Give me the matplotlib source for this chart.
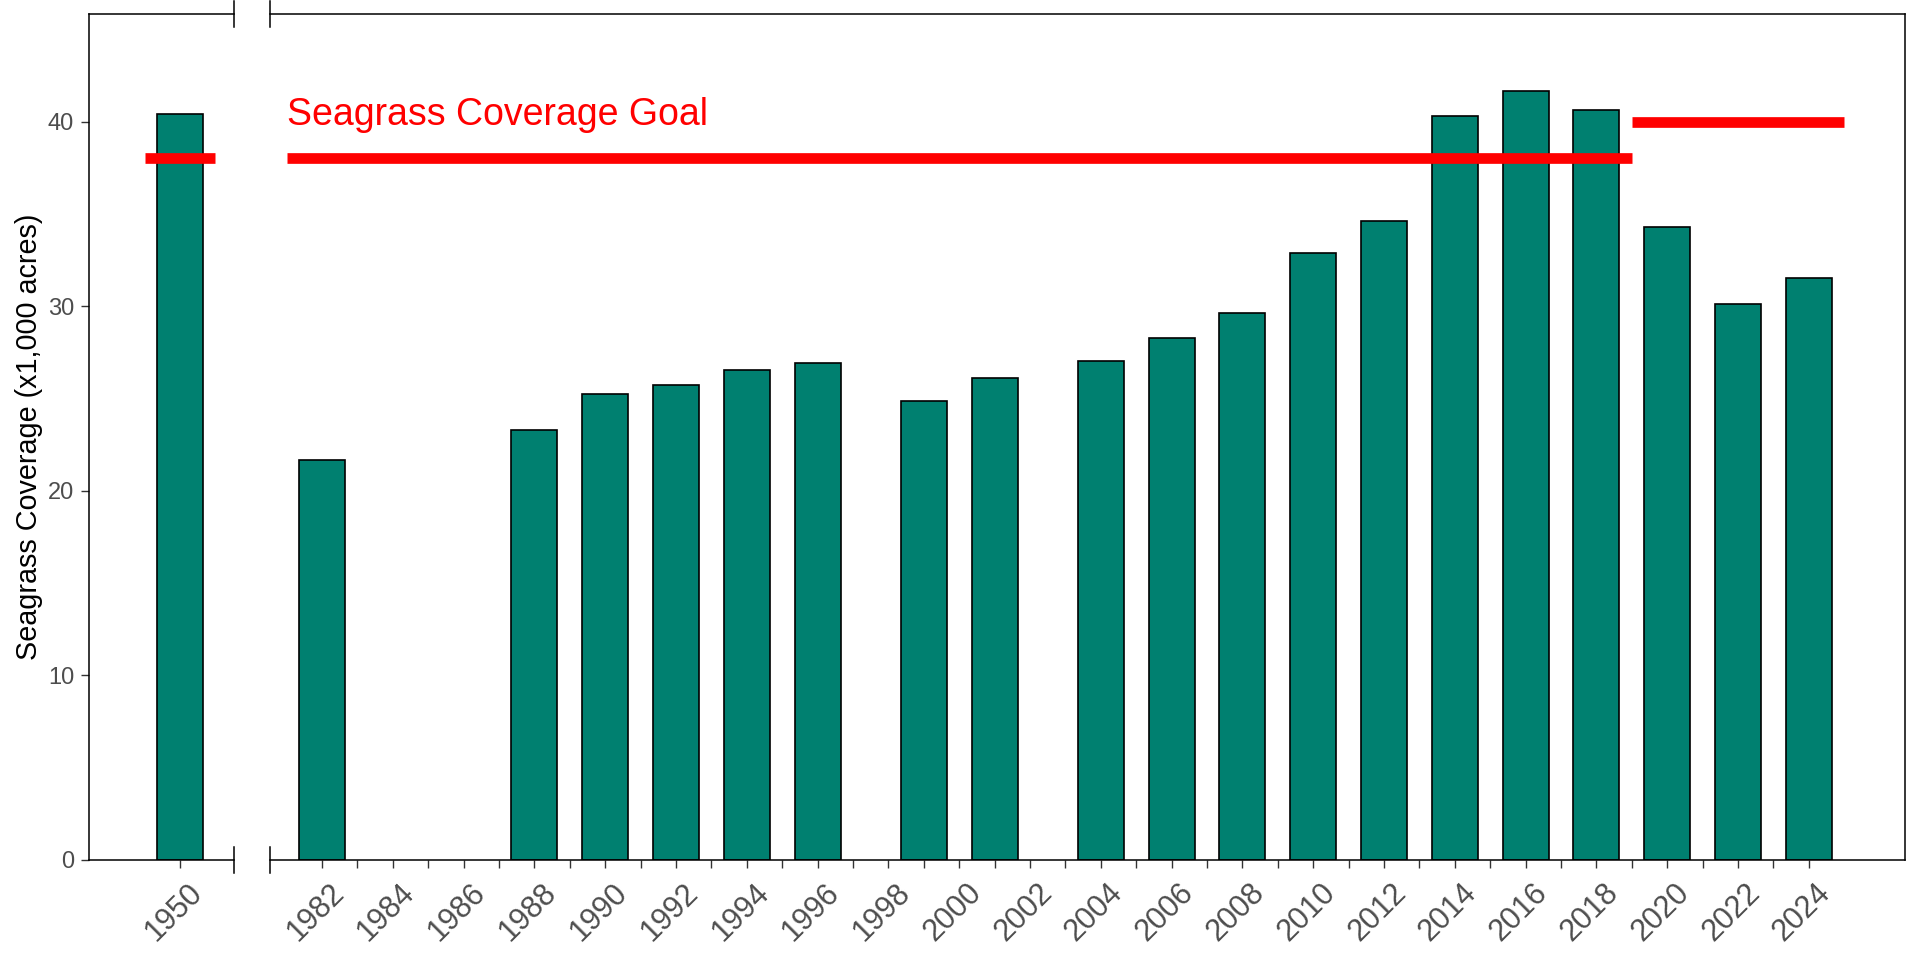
import matplotlib

matplotlib.use("Agg")
import matplotlib.pyplot as plt
import matplotlib.transforms as mtransforms

plt.rcParams["font.family"] = ["Liberation Sans", "DejaVu Sans"]

# survey years and seagrass coverage (x1,000 acres)
years = [1950, 1982, 1988, 1990, 1992, 1994, 1996, 1999, 2001, 2004,
         2006, 2008, 2010, 2012, 2014, 2016, 2018, 2020, 2022, 2024]
coverage = [40.42, 21.65, 23.29, 25.23, 25.75, 26.52, 26.92, 24.84, 26.10, 27.02,
            28.30, 29.65, 32.90, 34.64, 40.30, 41.66, 40.65, 34.30, 30.14, 31.55]

# goal segments
goal_start = [1949, 1981, 2019]
goal_end = [1951, 2019, 2025]
goal_value = [38, 38, 40]

y_ticks = [0, 10, 20, 30, 40]
left_ticks = [1950]
right_ticks = list(range(1982, 2025))

bar_color = "#008070"
tick_gray = "#4D4D4D"

fig = plt.figure(figsize=(19.2, 9.6), dpi=100)
ax_l = fig.add_axes([89 / 1920, 100 / 960, 145 / 1920, 846 / 960])
ax_r = fig.add_axes([270 / 1920, 100 / 960, 1635 / 1920, 846 / 960])

for ax in (ax_l, ax_r):
    ax.bar(years, coverage, width=1.3, color=bar_color, edgecolor="black",
           linewidth=1.2, zorder=2)
    for x0, x1, g in zip(goal_start, goal_end, goal_value):
        ax.plot([x0, x1], [g, g], color="red", lw=7.7, solid_capstyle="butt", zorder=3)
    ax.set_ylim(0, 1.1 * max(coverage))
    for s in ax.spines.values():
        s.set_linewidth(1.1)
    ax.tick_params(axis="x", length=5.8, width=1.0, color="#333333",
                   labelsize=22, labelcolor=tick_gray, pad=7)

ax_l.set_xlim(1947.43, 1951.53)
ax_r.set_xlim(1980.53, 2026.72)
ax_l.spines["right"].set_visible(False)
ax_r.spines["left"].set_visible(False)

ax_l.set_yticks(y_ticks)
ax_l.tick_params(axis="y", length=5.8, width=1.0, color="#333333",
                 labelsize=17, labelcolor=tick_gray, pad=5)
ax_r.tick_params(axis="y", left=False, labelleft=False)

ax_l.set_xticks(left_ticks)
ax_l.set_xticklabels([str(y) for y in left_ticks],
                     rotation=45, ha="right", rotation_mode="anchor")
ax_r.set_xticks(right_ticks)
ax_r.set_xticklabels([str(y) if y % 2 == 0 else "" for y in right_ticks],
                     rotation=45, ha="right", rotation_mode="anchor")

# nudge rotated labels a little to the right, like the original
offset = mtransforms.ScaledTranslation(0.07, 0, fig.dpi_scale_trans)
for ax in (ax_l, ax_r):
    for lab in ax.get_xticklabels():
        lab.set_transform(lab.get_transform() + offset)

# axis break marks
brk = 13 / 846
for ax, xb in ((ax_l, 1), (ax_r, 0)):
    for yb in (0, 1):
        ax.plot([xb, xb], [yb - brk, yb + brk], transform=ax.transAxes,
                color="black", lw=1.1, clip_on=False)

ax_l.set_ylabel("Seagrass Coverage (x1,000 acres)", fontsize=20.7, color="black")
ax_l.yaxis.set_label_coords(-60 / 145, 0.5)
ax_l.yaxis.label.set_verticalalignment("center")

ax_r.text(1981, 39.82, "Seagrass Coverage Goal", color="red", fontsize=27,
          ha="left", va="baseline")

fig.savefig("out.png", dpi=100)
